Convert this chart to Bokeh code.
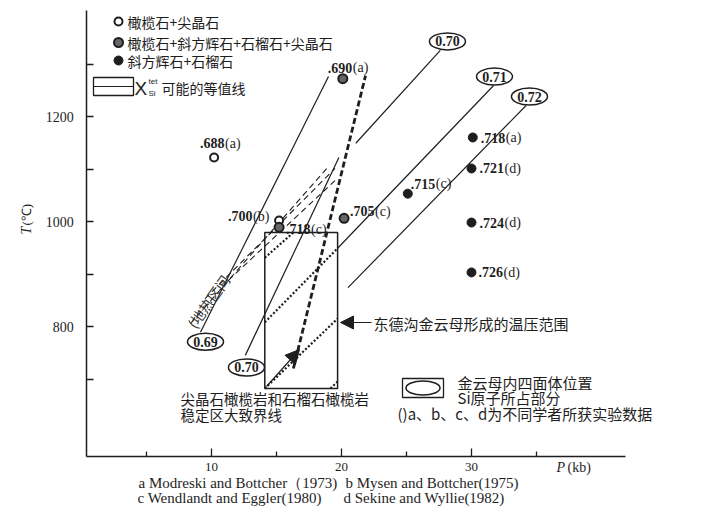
import math
from bokeh.plotting import figure
from bokeh.models import Range1d, FixedTicker, Label, Arrow, NormalHead
from bokeh.embed import file_html
from bokeh.resources import INLINE
from bokeh.core.properties import value

# ---------------- data ----------------
x_major = [10, 20, 30]
x_minor = [5, 15, 25, 35]
y_major = [800, 1000, 1200]
y_minor = [700, 900, 1100, 1300]

# phase assemblages: P (kb), T (C)
open_P = [10.2, 15.2]
open_T = [1122, 1002]
open_num = [".688", ".700"]
open_src = ["(a)", "(b)"]

gray_P = [20.1, 15.2, 20.2]
gray_T = [1272, 989, 1006]
gray_num = [".690", ".718", ".705"]
gray_src = ["(a)", "(c)", "(c)"]

fill_P = [25.1, 30.1, 30.0, 30.0, 30.0]
fill_T = [1053, 1160, 1101, 998, 903]
fill_num = [".715", ".718", ".721", ".724", ".726"]
fill_src = ["(c)", "(a)", "(d)", "(d)", "(d)"]

# X_Si^tet isopleths (solid)
iso069_P = [9.15, 19.0];   iso069_T = [789, 1276]
iso070a_P = [12.6, 19.8];  iso070a_T = [745, 1122]
iso070b_P = [21.1, 27.6];  iso070b_T = [1149, 1326]
iso071_P = [19.7, 31.7];   iso071_T = [949, 1259]
iso072_P = [20.5, 34.2];   iso072_T = [874, 1221]
# isopleth parts inside the box (dotted)
inA_P = [14.1, 16.3];      inA_T = [931, 979]
in071_P = [14.1, 19.7];    in071_T = [808, 949]
in072_P = [14.1, 19.7];    in072_T = [682, 815]
inC_P = [19.15, 19.7];     inC_T = [682, 695]
# spinel / garnet peridotite boundary
bound_P = [16.3, 21.85];   bound_T = [720, 1278]
# geotherm band
geo1_P = [8.4, 19.0];      geo1_T = [806, 1105]
geo2_P = [9.5, 19.5];      geo2_T = [853, 1101]
geo3_P = [11.3, 19.5];     geo3_T = [888, 1078]
# P-T box of Dongdegou phlogopite
box_P = [14.1, 19.7]
box_T = [682, 979]
# isopleth value tags
tag_P = [9.54, 12.69, 28.15, 31.77, 34.46]
tag_T = [771, 722, 1343, 1276, 1238]
tag_text = ["0.69", "0.70", "0.70", "0.71", "0.72"]

# axis extents
P_min, P_max = 0.4, 41.85
T_min, T_max = 552, 1402

# ---------------- helpers (layout: page pixel -> data) ----------------
def PX(x):
    return (x - 81) / 13.0

def TY(y):
    return 1200 - (y - 116) / 0.525

def dP(dx):
    return dx / 13.0

def dT(dy):
    return -dy / 0.525

INK = "#1e1e1e"
SERIF = "Liberation Serif"
CJK = "Noto Sans CJK SC"

W, H = 704, 510
p = figure(width=W, height=H,
           x_range=Range1d(PX(0), PX(W)), y_range=Range1d(TY(H), TY(0)),
           output_backend="svg", toolbar_location=None,
           min_border_left=0, min_border_right=0, min_border_top=0, min_border_bottom=0)
p.outline_line_color = None
p.xgrid.visible = False
p.ygrid.visible = False
p.background_fill_color = "white"
p.border_fill_color = "white"

for ax in (p.xaxis[0], p.yaxis[0]):
    ax.axis_line_color = INK
    ax.axis_line_width = 1.5
    ax.major_tick_line_color = INK
    ax.minor_tick_line_color = INK
    ax.major_tick_line_width = 1.3
    ax.minor_tick_line_width = 1.3
    ax.major_tick_out = 0
    ax.minor_tick_out = 0
    ax.major_label_text_font = SERIF
    ax.major_label_text_color = INK

p.xaxis.fixed_location = T_min
p.xaxis.bounds = (P_min, P_max)
p.xaxis.ticker = FixedTicker(ticks=x_major, minor_ticks=x_minor)
p.xaxis.major_tick_in = 8
p.xaxis.minor_tick_in = 5
p.xaxis.major_label_text_font_size = "13px"
p.xaxis.major_label_standoff = 6

p.yaxis.fixed_location = P_min
p.yaxis.bounds = (T_min, T_max)
p.yaxis.ticker = FixedTicker(ticks=y_major, minor_ticks=y_minor)
p.yaxis.major_tick_in = 7
p.yaxis.minor_tick_in = 7
p.yaxis.major_label_text_font_size = "14px"
p.yaxis.major_label_standoff = 13

# ---------------- lines ----------------
for xs, ys in [(iso069_P, iso069_T), (iso070a_P, iso070a_T), (iso070b_P, iso070b_T),
               (iso071_P, iso071_T), (iso072_P, iso072_T)]:
    p.line(xs, ys, line_color=INK, line_width=1.2)

for xs, ys in [(inA_P, inA_T), (in071_P, in071_T), (in072_P, in072_T), (inC_P, inC_T)]:
    p.line(xs, ys, line_color=INK, line_width=2.2, line_dash="2 2")

for xs, ys in [(geo1_P, geo1_T), (geo2_P, geo2_T), (geo3_P, geo3_T)]:
    p.line(xs, ys, line_color=INK, line_width=1.1, line_dash="6 4")

p.line(bound_P, bound_T, line_color=INK, line_width=2.8, line_dash="6 3")

p.quad(left=[box_P[0]], right=[box_P[1]], bottom=[box_T[0]], top=[box_T[1]],
       fill_color=None, line_color=INK, line_width=1.5)

# isopleth tags
p.ellipse(tag_P, tag_T, width=36, height=17, width_units="screen", height_units="screen",
          fill_color="white", line_color=INK, line_width=1.5)
p.text(tag_P, tag_T, text=tag_text, text_font=value(SERIF), text_font_style="bold",
       text_font_size="14px", text_align="center", text_baseline="middle", text_color=INK)

# ---------------- points ----------------
p.scatter(open_P, open_T, marker="circle", size=8, fill_color="white",
          line_color=INK, line_width=2)
p.scatter(gray_P, gray_T, marker="circle", size=9, fill_color="#666666",
          line_color=INK, line_width=2)
p.scatter(fill_P, fill_T, marker="circle", size=9, fill_color=INK, line_color=INK)

# point labels: number bold, source letter normal
all_P = open_P + gray_P + fill_P
all_T = open_T + gray_T + fill_T
all_num = open_num + gray_num + fill_num
all_src = open_src + gray_src + fill_src
offs = [(-14, -14), (-51, -4), (-15, -11), (7, 2), (6, -7),
        (3, -10), (8, 0), (8, 0), (8, 0), (7, 0)]
nx = [P + dP(o[0]) for P, o in zip(all_P, offs)]
ny = [T + dT(o[1]) for T, o in zip(all_T, offs)]
sx = [P + dP(o[0] + 25) for P, o in zip(all_P, offs)]
p.text(nx, ny, text=all_num, text_font=value(SERIF), text_font_style="bold", text_font_size="14px",
       text_align="left", text_baseline="middle", text_color=INK)
p.text(sx, ny, text=all_src, text_font=value(SERIF), text_font_size="14px",
       text_align="left", text_baseline="middle", text_color=INK)

# ---------------- arrows ----------------
p.add_layout(Arrow(end=NormalHead(size=14, fill_color=INK, line_color=INK),
                   x_start=PX(266), y_start=TY(386), x_end=PX(299), y_end=TY(349),
                   line_color=INK, line_width=1.2))
p.add_layout(Arrow(end=NormalHead(size=13, fill_color=INK, line_color=INK),
                   x_start=PX(371), y_start=TY(322), x_end=PX(340), y_end=TY(322),
                   line_color=INK, line_width=1.2))

# ---------------- legends ----------------
p.scatter([PX(118)], [TY(21)], marker="circle", size=8, fill_color="white", line_color=INK, line_width=2)
p.scatter([PX(118)], [TY(42)], marker="circle", size=9, fill_color="#666666", line_color=INK, line_width=2)
p.scatter([PX(118)], [TY(60)], marker="circle", size=9, fill_color=INK, line_color=INK)

def lab(x, y, text, font=CJK, size="14px", style="normal", align="left", angle=0.0, color=INK):
    p.add_layout(Label(x=PX(x), y=TY(y), text=text, text_font=font, text_font_size=size,
                       text_font_style=style, text_align=align, text_baseline="middle",
                       angle=angle, text_color=color))

lab(127, 21, "橄榄石+尖晶石")
lab(127, 42, "橄榄石+斜方辉石+石榴石+尖晶石")
lab(127, 60, "斜方辉石+石榴石")

p.quad(left=[PX(93)], right=[PX(133)], bottom=[TY(95)], top=[TY(77)],
       fill_color=None, line_color=INK, line_width=1.3)
p.segment([PX(93)], [TY(86)], [PX(133)], [TY(86)], line_color=INK, line_width=1.2)
lab(134, 88, "X", font="Liberation Sans", size="19px")
lab(148, 81, "tet", font="Liberation Sans", size="8px")
lab(148, 93, "Si", font="Liberation Sans", size="8px")
lab(161, 87, "可能的等值线")

# lower-right legend
p.quad(left=[PX(402)], right=[PX(443)], bottom=[TY(397)], top=[TY(378)],
       fill_color=None, line_color=INK, line_width=1.3)
p.ellipse([PX(422.5)], [TY(387.5)], width=34, height=14, width_units="screen",
          height_units="screen", fill_color=None, line_color=INK, line_width=1.5)
lab(457, 382, "金云母内四面体位置", size="15px")
lab(457, 397, "Si原子所占部分", size="15px")
lab(397, 413, "()a、b、c、d为不同学者所获实验数据", size="15px")

# annotations
lab(373, 323, "东德沟金云母形成的温压范围", size="15px")
lab(180, 398, "尖晶石橄榄岩和石榴石橄榄岩", size="14.5px")
lab(180, 414, "稳定区大致界线", size="14.5px")
lab(208, 301, "(地热区间", size="14px", align="center", angle=0.95, color="#333333")

# axis titles
lab(26, 234, "T", font=SERIF, size="14px", style="italic", angle=math.pi / 2)
lab(26, 225, "(℃)", font=SERIF, size="13px", angle=math.pi / 2)
lab(556, 467, "P", font=SERIF, size="14px", style="italic")
lab(567, 467, "(kb)", font=SERIF, size="14px")

# citations
lab(138, 482, "a Modreski and Bottcher（1973)", font=SERIF, size="15px")
lab(345, 482, "b Mysen and Bottcher(1975)", font=SERIF, size="15px")
lab(137, 497, "c Wendlandt and Eggler(1980)", font=SERIF, size="15px")
lab(343, 497, "d Sekine and Wyllie(1982)", font=SERIF, size="15px")

open("out.html", "w").write(file_html(p, INLINE))
